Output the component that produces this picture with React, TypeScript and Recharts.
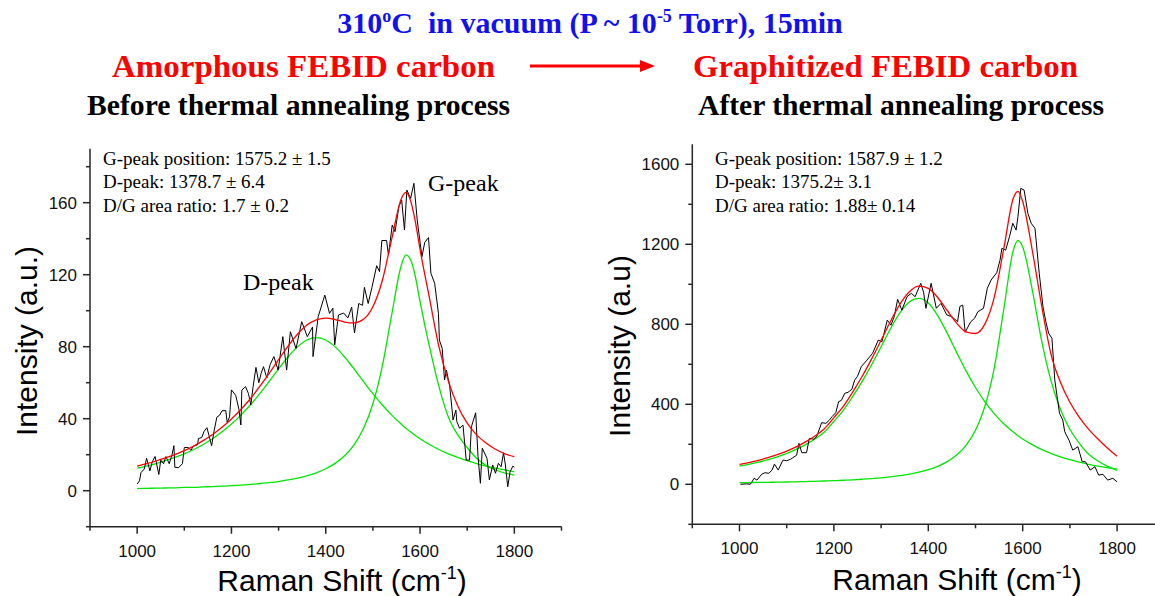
import { LineChart, Line, XAxis, YAxis } from "recharts";

// ---- data ----

// left panel: before annealing
const leftFitX = [1000, 1020, 1040, 1060, 1080, 1100, 1120, 1140, 1160, 1180, 1200, 1220, 1240, 1260, 1280, 1300, 1320, 1340, 1360, 1380, 1400, 1420, 1440, 1460, 1480, 1500, 1520, 1540, 1560, 1570, 1580, 1590, 1600, 1620, 1640, 1660, 1680, 1700, 1720, 1740, 1760, 1780, 1800];
const leftDPeak = [12.5, 13.7, 15.1, 16.7, 18.5, 20.5, 22.9, 25.7, 28.9, 32.7, 37.0, 42.0, 47.6, 53.9, 60.7, 67.7, 74.3, 79.9, 83.7, 85.0, 83.7, 79.9, 74.3, 67.7, 60.7, 53.9, 47.6, 42.0, 37.0, 34.7, 32.7, 30.7, 28.9, 25.7, 22.9, 20.5, 18.5, 16.7, 15.1, 13.7, 12.5, 11.5, 10.5];
const leftGPeak = [1.2, 1.3, 1.4, 1.5, 1.6, 1.8, 1.9, 2.1, 2.3, 2.5, 2.8, 3.1, 3.5, 4.0, 4.5, 5.1, 6.0, 7.0, 8.3, 9.9, 12.2, 15.2, 19.4, 25.5, 34.5, 48.3, 69.2, 97.9, 125.0, 131.0, 128.3, 119.0, 105.0, 80.0, 58.0, 41.0, 31.0, 24.0, 18.0, 14.0, 11.5, 9.8, 8.7];
const leftFit = [13.7, 15.0, 16.5, 18.2, 20.1, 22.3, 24.8, 27.8, 31.2, 35.2, 39.8, 45.1, 51.1, 57.9, 65.2, 72.8, 80.3, 86.9, 92.0, 94.9, 95.9, 95.1, 93.7, 93.2, 95.2, 102.2, 116.8, 139.9, 162.0, 165.7, 161.0, 149.5, 134.0, 107.0, 80.0, 61.0, 47.0, 37.5, 31.0, 26.5, 23.0, 20.5, 18.9];

const leftRawX = [1000, 1005, 1008, 1015, 1020, 1027, 1032, 1038, 1046, 1050, 1056, 1061, 1068, 1074, 1078, 1080, 1088, 1096, 1100, 1108, 1114, 1120, 1128, 1130, 1137, 1142, 1148, 1152, 1158, 1163, 1169, 1175, 1180, 1188, 1191, 1196, 1200, 1209, 1216, 1220, 1222, 1230, 1236, 1241, 1246, 1252, 1258, 1263, 1268, 1275, 1282, 1290, 1299, 1309, 1317, 1325, 1337, 1349, 1361, 1372, 1373, 1384, 1398, 1408, 1415, 1419, 1427, 1438, 1447, 1455, 1461, 1470, 1478, 1482, 1490, 1498, 1508, 1514, 1519, 1529, 1533, 1541, 1547, 1555, 1561, 1567, 1572, 1580, 1587, 1594, 1604, 1610, 1618, 1623, 1631, 1639, 1641, 1647, 1652, 1656, 1663, 1670, 1676, 1678, 1684, 1691, 1698, 1705, 1709, 1718, 1723, 1728, 1732, 1742, 1747, 1754, 1760, 1766, 1772, 1777, 1781, 1786, 1791, 1797, 1800];
const leftRawY = [3.7, 5.5, 10, 12, 18, 11, 16, 19, 9, 17, 15, 19, 15, 20, 25, 13, 12.8, 15, 24, 24, 22.5, 25, 25.4, 29, 29.5, 33, 35, 31, 25, 33, 40.8, 42, 44.4, 44.5, 38, 41, 56, 53, 45, 36.5, 55.9, 57.8, 54, 47.6, 58, 68.5, 60, 65.2, 68.9, 62.6, 70, 74.5, 67, 85.6, 67, 88.3, 79, 93.9, 85.6, 91, 74.5, 96.7, 108.7, 98.5, 101.4, 81, 97.6, 98.7, 96, 102, 87.6, 104, 103, 113, 104, 113, 125, 121.7, 139, 139, 131, 147.6, 143.9, 157.8, 161.5, 144.8, 167, 162.4, 170.8, 150.4, 130, 138, 140.6, 120.8, 115.2, 98.5, 83.7, 79, 61.5, 67, 57.8, 39.3, 44.8, 38.3, 34.7, 36.5, 17, 17, 35.6, 43.3, 18.9, 4.1, 23.6, 18, 6, 14.3, 9.7, 15.2, 13.3, 21.1, 14.3, 2.2, 10.6, 13.7, 13];

// right panel: after annealing
const rightFitX = [1000, 1020, 1040, 1060, 1080, 1100, 1120, 1140, 1160, 1180, 1200, 1220, 1240, 1260, 1280, 1300, 1320, 1340, 1360, 1380, 1400, 1420, 1440, 1460, 1480, 1500, 1520, 1540, 1560, 1580, 1590, 1600, 1620, 1640, 1660, 1680, 1700, 1720, 1740, 1760, 1780, 1800];
const rightDPeak = [90.8, 100.1, 110.7, 123.1, 137.6, 154.5, 174.6, 198.5, 226.9, 261.2, 315, 370, 440, 515, 598, 688, 778, 858, 912, 930, 906.8, 843.6, 755.9, 659.8, 567.1, 484.0, 412.5, 352.5, 302.5, 261.2, 243, 226.9, 198.5, 174.6, 154.5, 137.6, 123.1, 110.7, 100.1, 90.8, 82.7, 75.7];
const rightGPeak = [8.0, 8.6, 9.2, 9.9, 10.7, 11.6, 12.6, 13.7, 15.0, 16.5, 18.2, 20.2, 22.5, 25.3, 28.6, 32.5, 37.4, 43.4, 50.9, 60.6, 73.2, 90.1, 113.3, 146.4, 195.1, 270.2, 390.1, 585.1, 877.3, 1169.2, 1220, 1187, 976, 720, 517, 375, 275, 205, 150, 115, 90, 70];
const rightFit = [99, 108.7, 119.9, 133, 148.3, 166.1, 187.2, 212.2, 241.9, 277.7, 333, 390, 462, 540, 627, 720, 815, 901, 963, 991, 980, 934, 869, 806, 762, 754, 802, 937, 1179, 1430, 1465, 1414, 1174, 895, 650, 510, 410, 335, 275, 225, 180, 140];

const rightRawX = [1002, 1015, 1023, 1031, 1037, 1047, 1054, 1062, 1069, 1074, 1082, 1092, 1100, 1108, 1113, 1121, 1126, 1132, 1142, 1148, 1158, 1164, 1174, 1183, 1190, 1196, 1204, 1210, 1216, 1223, 1230, 1238, 1244, 1250, 1258, 1270, 1282, 1294, 1302, 1313, 1321, 1328, 1335, 1344, 1355, 1364, 1372, 1384, 1390, 1395, 1406, 1417, 1427, 1439, 1450, 1462, 1467, 1473, 1478, 1490, 1498, 1505, 1517, 1525, 1533, 1545, 1552, 1556, 1564, 1572, 1579, 1586, 1590, 1596, 1603, 1611, 1618, 1626, 1635, 1643, 1649, 1655, 1662, 1668, 1678, 1685, 1689, 1698, 1706, 1717, 1726, 1733, 1743, 1753, 1761, 1770, 1780, 1791, 1800];
const rightRawY = [0, 2, 0, 30, 21, 50, 58, 55, 71, 101, 71, 121, 118, 125, 133, 145, 205, 158, 158, 230, 225, 241, 308, 305, 320, 338, 358, 413, 420, 455, 460, 475, 521, 540, 588, 621, 655, 721, 713, 821, 796, 840, 925, 871, 938, 955, 938, 1005, 960, 880, 1005, 880, 905, 847, 838, 813, 890, 896, 760, 813, 830, 863, 880, 980, 1021, 1058, 1121, 1180, 1171, 1238, 1305, 1271, 1338, 1480, 1471, 1355, 1305, 1280, 1055, 888, 813, 755, 730, 521, 355, 321, 263, 221, 171, 188, 113, 113, 71, 88, 46, 50, 21, 30, 12];

const xTicks = [900, 1000, 1100, 1200, 1300, 1400, 1500, 1600, 1700, 1800, 1900];
const xLabels = [1000, 1200, 1400, 1600, 1800];
const leftYTicks = [-20, 0, 20, 40, 60, 80, 100, 120, 140, 160, 180];
const leftYLabels = [0, 40, 80, 120, 160];
const rightYTicks = [-200, 0, 200, 400, 600, 800, 1000, 1200, 1400, 1600];
const rightYLabels = [0, 400, 800, 1200, 1600];

const leftNotes = ["G-peak position: 1575.2 \u00b1 1.5", "D-peak: 1378.7 \u00b1 6.4", "D/G area ratio: 1.7 \u00b1 0.2"];
const rightNotes = ["G-peak position: 1587.9 \u00b1 1.2", "D-peak: 1375.2\u00b1 3.1", "D/G area ratio: 1.88\u00b1 0.14"];

const pairs = (xs: number[], ys: number[]) => xs.map((x, i) => ({ x, y: ys[i] }));

// ---- styling ----
const AXIS = "#262626";
const GREEN = "#00e600";
const RED = "#ff0000";
const SANS = "'Liberation Sans', Arial, sans-serif";
const SERIF = "'Liberation Serif', 'Times New Roman', serif";

function xTick(props: any) {
  const { x, y, payload } = props;
  const major = xLabels.includes(payload.value);
  return (
    <g>
      <line x1={x} y1={y} x2={x} y2={y + (major ? 7 : 4)} stroke={AXIS} strokeWidth={1.5} />
      {major && (
        <text x={x} y={y + 30} textAnchor="middle" fontFamily={SANS} fontSize={17} fill="#111">
          {payload.value}
        </text>
      )}
    </g>
  );
}

function makeYTick(labels: number[]) {
  return (props: any) => {
    const { x, y, payload } = props;
    const major = labels.includes(payload.value);
    return (
      <g>
        <line x1={x} y1={y} x2={x - (major ? 7 : 4)} y2={y} stroke={AXIS} strokeWidth={1.5} />
        {major && (
          <text x={x - 13} y={y + 6} textAnchor="end" fontFamily={SANS} fontSize={17} fill="#111">
            {payload.value}
          </text>
        )}
      </g>
    );
  };
}

type PanelProps = {
  left: number;
  width: number;
  margin: { top: number; right: number; bottom: number; left: number };
  yDomain: [number, number];
  yTicks: number[];
  yLabels: number[];
  raw: { x: number; y: number }[];
  dPeak: { x: number; y: number }[];
  gPeak: { x: number; y: number }[];
  fit: { x: number; y: number }[];
};

function Panel(p: PanelProps) {
  return (
    <div style={{ position: "absolute", left: p.left, top: 0 }}>
      <LineChart width={p.width} height={596} margin={p.margin}>
        <XAxis
          type="number"
          dataKey="x"
          domain={[900, 1900]}
          ticks={xTicks}
          interval={0}
          height={30}
          tickSize={0}
          tickMargin={0}
          tick={xTick}
          axisLine={{ stroke: AXIS, strokeWidth: 1.5 }}
        />
        <YAxis
          type="number"
          dataKey="y"
          domain={p.yDomain}
          ticks={p.yTicks}
          interval={0}
          width={60}
          tickSize={0}
          tickMargin={0}
          tick={makeYTick(p.yLabels)}
          axisLine={{ stroke: AXIS, strokeWidth: 1.5 }}
        />
        <Line data={p.dPeak} dataKey="y" type="monotone" stroke={GREEN} strokeWidth={1.3} dot={false} isAnimationActive={false} />
        <Line data={p.gPeak} dataKey="y" type="monotone" stroke={GREEN} strokeWidth={1.3} dot={false} isAnimationActive={false} />
        <Line data={p.raw} dataKey="y" type="linear" stroke="#000" strokeWidth={1} dot={false} isAnimationActive={false} />
        <Line data={p.fit} dataKey="y" type="monotone" stroke={RED} strokeWidth={1.3} dot={false} isAnimationActive={false} />
      </LineChart>
    </div>
  );
}

export default function App() {
  return (
    <div style={{ position: "absolute", left: 0, top: 0, width: 1155, height: 596, overflow: "hidden", background: "#fff" }}>
      <Panel
        left={0}
        width={580}
        margin={{ top: 148.7, right: 18.5, bottom: 39.3, left: 30 }}
        yDomain={[-20, 190]}
        yTicks={leftYTicks}
        yLabels={leftYLabels}
        raw={pairs(leftRawX, leftRawY)}
        dPeak={pairs(leftFitX, leftDPeak)}
        gPeak={pairs(leftFitX, leftGPeak)}
        fit={pairs(leftFitX, leftFit)}
      />
      <Panel
        left={580}
        width={600}
        margin={{ top: 144.3, right: 15.7, bottom: 41.7, left: 52.3 }}
        yDomain={[-200, 1700]}
        yTicks={rightYTicks}
        yLabels={rightYLabels}
        raw={pairs(rightRawX, rightRawY)}
        dPeak={pairs(rightFitX, rightDPeak)}
        gPeak={pairs(rightFitX, rightGPeak)}
        fit={pairs(rightFitX, rightFit)}
      />
      <svg width={1155} height={596} style={{ position: "absolute", left: 0, top: 0, pointerEvents: "none" }}>
        <text x={590} y={33} textAnchor="middle" fontFamily={SERIF} fontWeight="bold" fontSize={30} fill="#1010f0" style={{ whiteSpace: "pre" }}>
          310<tspan dy={-11} fontSize={18}>o</tspan>
          <tspan dy={11}>C  in vacuum (P ~ 10</tspan>
          <tspan dy={-11} fontSize={18}>-5</tspan>
          <tspan dy={11}> Torr), 15min</tspan>
        </text>
        <text x={112} y={77} fontFamily={SERIF} fontWeight="bold" fontSize={32} fill={RED} textLength={383} lengthAdjust="spacingAndGlyphs">
          Amorphous FEBID carbon
        </text>
        <line x1={530} y1={66} x2={642} y2={66} stroke={RED} strokeWidth={3} />
        <polygon points="640,60 655,66 640,72" fill={RED} />
        <text x={693} y={77} fontFamily={SERIF} fontWeight="bold" fontSize={32} fill={RED} textLength={385} lengthAdjust="spacingAndGlyphs">
          Graphitized FEBID carbon
        </text>
        <text x={87} y={115} fontFamily={SERIF} fontWeight="bold" fontSize={30} fill="#000" textLength={423} lengthAdjust="spacingAndGlyphs">
          Before thermal annealing process
        </text>
        <text x={698} y={115} fontFamily={SERIF} fontWeight="bold" fontSize={30} fill="#000" textLength={406} lengthAdjust="spacingAndGlyphs">
          After thermal annealing process
        </text>

        {leftNotes.map((t, i) => (
          <text key={t} x={103} y={165 + i * 23.3} fontFamily={SERIF} fontSize={19} fill="#000">
            {t}
          </text>
        ))}
        {rightNotes.map((t, i) => (
          <text key={t} x={715} y={165 + i * 23.3} fontFamily={SERIF} fontSize={19} fill="#000">
            {t}
          </text>
        ))}
        <text x={428} y={191} fontFamily={SERIF} fontSize={24} fill="#000">G-peak</text>
        <text x={243} y={290} fontFamily={SERIF} fontSize={24} fill="#000">D-peak</text>

        <text x={37} y={341} transform="rotate(-90 37 341)" textAnchor="middle" fontFamily={SANS} fontSize={30} fill="#000">
          Intensity (a.u.)
        </text>
        <text x={630} y={346} transform="rotate(-90 630 346)" textAnchor="middle" fontFamily={SANS} fontSize={30} fill="#000">
          Intensity (a.u)
        </text>
        <text x={342} y={591} textAnchor="middle" fontFamily={SANS} fontSize={30} fill="#000">
          Raman Shift (cm<tspan dy={-12} fontSize={18}>-1</tspan>
          <tspan dy={12}>)</tspan>
        </text>
        <text x={957} y={590} textAnchor="middle" fontFamily={SANS} fontSize={30} fill="#000">
          Raman Shift (cm<tspan dy={-12} fontSize={18}>-1</tspan>
          <tspan dy={12}>)</tspan>
        </text>
      </svg>
    </div>
  );
}
